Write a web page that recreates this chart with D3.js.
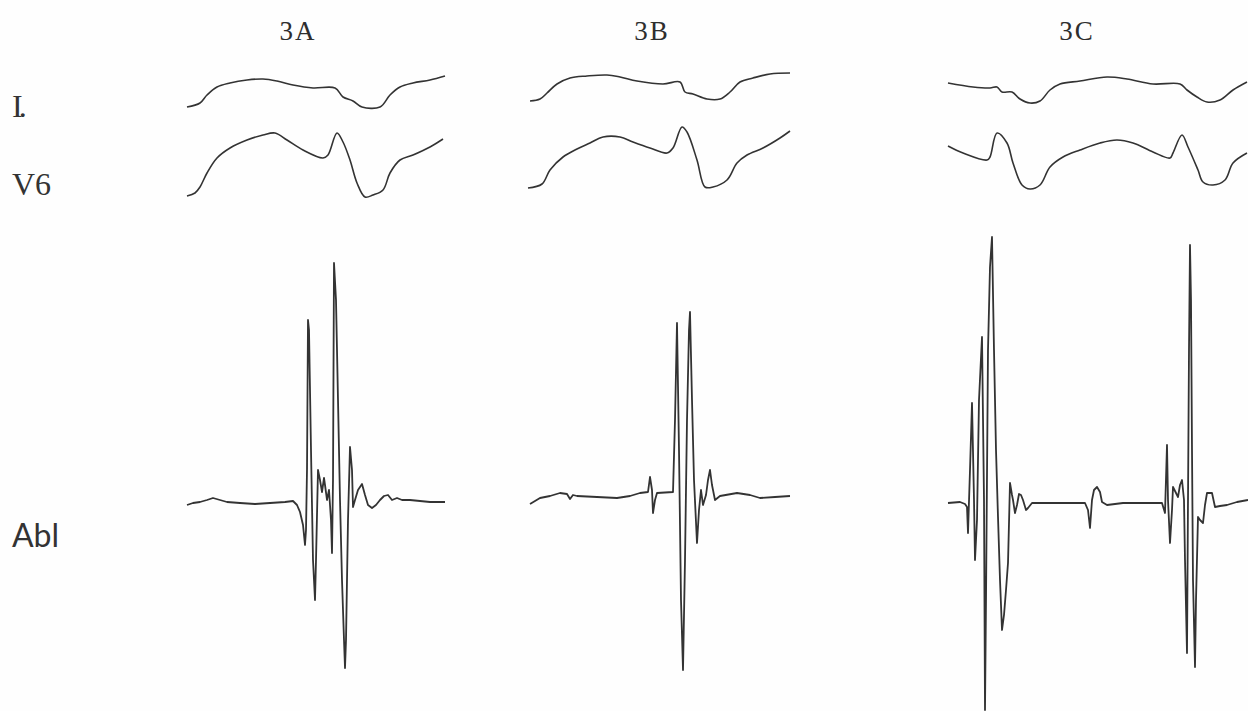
<!DOCTYPE html>
<html>
<head>
  <meta charset="utf-8">
  <title>Surface ECG and ablation electrograms 3A-3C</title>
  <style>
    body { margin: 0; background: #fefefe; }
    svg { display: block; }
  </style>
</head>
<body>
  <script src="https://d3js.org/d3.v7.min.js"></script>
  <script type="text/javascript">

// panels and lead names
var panels = ["3A", "3B", "3C"];
var leads  = ["I.", "V6", "Abl"];

// sweep length of each panel, ms
var sweepMs = [520, 528, 600];

// traces: [time ms, amplitude mV]
var leadI_3A = [[2,-0.07],[28,-0.03],[42,0.05],[62,0.13],[88,0.17],[122,0.20],[154,0.21],[182,0.19],[214,0.15],[254,0.12],[298,0.12],[314,0.03],[334,-0.01],[352,-0.07],[388,-0.07],[408,0.05],[428,0.13],[454,0.17],[488,0.20],[518,0.24]];
var leadI_3B = [[6,-0.01],[26,0.01],[40,0.07],[60,0.16],[86,0.22],[120,0.24],[160,0.25],[186,0.23],[220,0.19],[272,0.16],[306,0.18],[316,0.08],[332,0.06],[360,0.01],[386,0.01],[406,0.08],[426,0.18],[452,0.22],[486,0.26],[526,0.27]];
var leadI_3C = [[0,0.17],[50,0.13],[84,0.12],[98,0.13],[108,0.08],[128,0.08],[144,0.01],[164,-0.03],[184,-0.01],[204,0.10],[224,0.16],[264,0.19],[318,0.23],[358,0.21],[410,0.16],[464,0.16],[478,0.10],[498,0.03],[518,-0.02],[544,0.00],[570,0.10],[598,0.18]];

var v6_3A = [[2,-0.31],[18,-0.28],[28,-0.22],[42,-0.08],[62,0.07],[88,0.17],[122,0.25],[154,0.30],[178,0.32],[202,0.25],[234,0.15],[274,0.07],[284,0.10],[302,0.32],[314,0.23],[328,0.05],[342,-0.18],[358,-0.32],[374,-0.30],[394,-0.25],[408,-0.08],[428,0.05],[454,0.10],[488,0.18],[514,0.26]];
var v6_3B = [[2,-0.23],[30,-0.19],[46,-0.05],[72,0.08],[100,0.16],[126,0.22],[152,0.28],[186,0.28],[212,0.23],[246,0.17],[280,0.12],[292,0.17],[310,0.38],[320,0.33],[340,0.05],[356,-0.22],[372,-0.22],[400,-0.15],[420,0.02],[440,0.10],[472,0.17],[506,0.27],[526,0.34]];
var v6_3C = [[0,0.19],[30,0.12],[78,0.05],[84,0.08],[98,0.32],[118,0.22],[130,0.02],[148,-0.20],[164,-0.24],[184,-0.20],[204,-0.02],[230,0.08],[264,0.15],[304,0.22],[338,0.25],[370,0.22],[410,0.13],[444,0.07],[450,0.12],[468,0.30],[480,0.18],[500,-0.05],[510,-0.17],[530,-0.20],[554,-0.15],[570,0.02],[598,0.12]];

var abl_3A = [[2,-0.03],[14,-0.01],[28,0.00],[42,0.02],[54,0.04],[68,0.02],[82,0.00],[108,-0.01],[138,-0.02],[168,-0.01],[198,0.00],[214,0.01],[222,-0.03],[228,-0.10],[234,-0.23],[238,-0.43],[240,-0.28],[242,0.32],[244,1.82],[246,1.72],[250,0.52],[254,-0.58],[258,-0.98],[260,-0.58],[264,0.32],[268,0.22],[272,0.10],[276,0.24],[278,0.17],[282,0.02],[286,0.12],[290,-0.18],[292,-0.51],[294,0.22],[296,2.39],[300,2.02],[304,1.02],[308,0.02],[312,-0.78],[316,-1.38],[318,-1.66],[320,-1.38],[324,-0.18],[328,0.55],[332,0.32],[334,-0.05],[338,0.02],[344,0.12],[352,0.18],[358,0.07],[364,-0.03],[372,-0.06],[380,-0.03],[388,0.02],[396,0.06],[404,0.07],[412,0.02],[422,0.04],[432,0.02],[448,0.02],[468,0.01],[488,0.00],[518,0.00]];
var abl_3B = [[6,-0.02],[26,0.04],[46,0.06],[66,0.09],[80,0.08],[86,0.03],[92,0.07],[100,0.06],[140,0.05],[180,0.04],[206,0.06],[226,0.09],[242,0.10],[246,0.25],[250,0.12],[252,-0.11],[256,0.02],[260,0.09],[292,0.10],[296,0.82],[300,1.79],[304,0.52],[308,-0.98],[312,-1.68],[316,-0.58],[320,0.82],[324,1.72],[326,1.90],[330,1.02],[334,0.22],[340,-0.41],[344,-0.08],[348,0.12],[352,-0.03],[358,0.07],[362,0.22],[366,0.32],[370,0.17],[376,0.02],[386,0.06],[420,0.09],[446,0.07],[466,0.04],[496,0.05],[526,0.06]];
var abl_3C = [[0,-0.01],[24,0.00],[34,-0.02],[38,-0.05],[40,-0.31],[44,0.32],[48,0.99],[52,0.02],[54,-0.58],[58,-0.18],[62,1.02],[68,1.65],[72,0.02],[74,-2.08],[76,-0.98],[80,1.52],[84,2.35],[88,2.65],[92,1.52],[96,0.52],[100,-0.15],[104,-0.78],[108,-1.28],[112,-1.13],[116,-0.88],[120,-0.61],[124,0.19],[128,0.07],[130,0.02],[134,-0.11],[138,-0.03],[142,0.08],[146,0.07],[150,0.02],[156,-0.08],[160,-0.06],[168,-0.01],[198,-0.01],[250,-0.01],[274,-0.01],[280,-0.08],[284,-0.26],[288,0.02],[292,0.12],[298,0.15],[304,0.10],[308,0.00],[318,-0.03],[350,-0.01],[384,-0.01],[428,-0.01],[434,-0.11],[438,0.57],[440,0.02],[444,-0.41],[448,-0.08],[450,0.15],[456,0.09],[460,0.05],[464,0.17],[468,0.22],[472,0.02],[474,-0.58],[478,-1.51],[480,0.02],[482,1.52],[484,2.57],[486,2.02],[488,0.52],[490,-0.78],[494,-1.65],[496,-0.98],[500,-0.15],[504,-0.18],[510,-0.21],[514,-0.03],[518,0.09],[528,0.09],[534,-0.05],[544,-0.04],[558,-0.03],[578,0.00],[600,0.02]];

var traces = [
  [leadI_3A, leadI_3B, leadI_3C],
  [v6_3A, v6_3B, v6_3C],
  [abl_3A, abl_3B, abl_3C]
];

var width = 1248, height = 711;
var panelLeft = [186, 527, 948];
var titleX = [298, 652, 1077];
var pxPerMs = 0.5;
var rowBase = [100, 165, 502];
var pxPerMv = 100;

var svg = d3.select("body")
    .append("svg")
    .attr("width", width)
    .attr("height", height);

svg.append("rect")
    .attr("width", width)
    .attr("height", height)
    .attr("fill", "#fefefe");

var xScales = panels.map(function(p, i) {
  return d3.scaleLinear()
      .domain([0, sweepMs[i]])
      .range([panelLeft[i], panelLeft[i] + sweepMs[i] * pxPerMs]);
});

var yScales = leads.map(function(l, r) {
  return d3.scaleLinear()
      .domain([-3, 3])
      .range([rowBase[r] + 3 * pxPerMv, rowBase[r] - 3 * pxPerMv]);
});

// panel titles
svg.selectAll(".title")
    .data(panels)
    .enter()
    .append("text")
    .attr("class", "title")
    .attr("x", function(d, i){ return titleX[i]; })
    .attr("y", 40)
    .attr("text-anchor", "middle")
    .attr("font-family", "Liberation Serif, serif")
    .attr("font-size", 27)
    .attr("letter-spacing", 2)
    .attr("fill", "#2e2e2e")
    .text(function(d){ return d; });

// lead labels
var labelY = [117, 195, 547];
svg.selectAll(".lead")
    .data(leads)
    .enter()
    .append("text")
    .attr("class", "lead")
    .attr("x", 12)
    .attr("y", function(d, i){ return labelY[i]; })
    .attr("font-family", function(d, i){ return i == 2 ? "Lato, sans-serif" : "Liberation Serif, serif"; })
    .attr("font-size", 32)
    .attr("letter-spacing", function(d, i){ return i == 0 ? -4 : 0; })
    .attr("fill", "#333")
    .text(function(d){ return d; });

// traces
traces.forEach(function(row, r) {
  row.forEach(function(data, p) {
    var line = d3.line()
        .x(function(d){ return xScales[p](d[0]); })
        .y(function(d){ return yScales[r](d[1]); })
        .curve(r < 2 ? d3.curveCatmullRom.alpha(0.5) : d3.curveLinear);

    svg.append("path")
        .datum(data)
        .attr("class", "trace")
        .attr("fill", "none")
        .attr("stroke", "#333")
        .attr("stroke-width", r < 2 ? 1.6 : 1.8)
        .attr("stroke-linejoin", "round")
        .attr("d", line);
  });
});

  </script>
</body>
</html>
